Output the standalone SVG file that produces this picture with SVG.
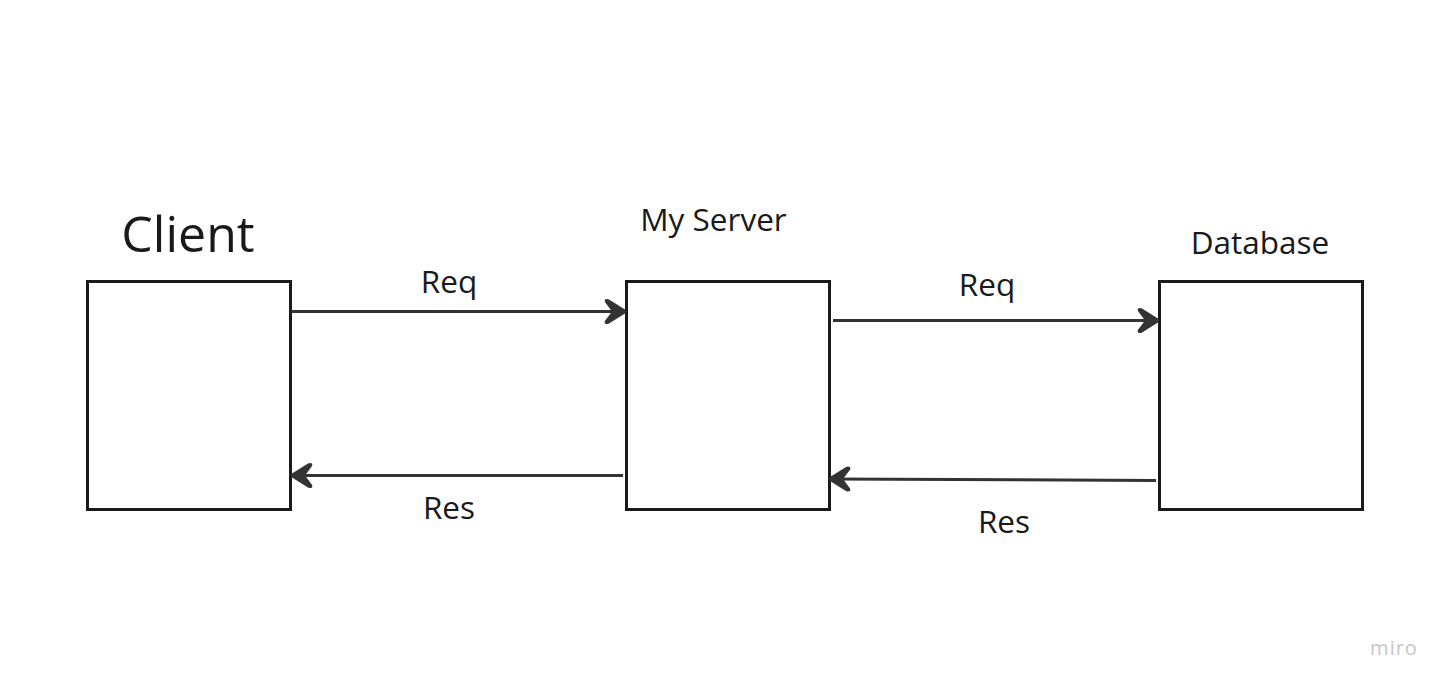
<svg xmlns="http://www.w3.org/2000/svg" width="1451" height="689" viewBox="0 0 1451 689">
<style>
.box{fill:#ffffff;stroke:#1a1a1a;stroke-width:3}
.lbl{font-family:"Open Sans","Liberation Sans",sans-serif;fill:#1a1a1a;text-anchor:middle}
.sm{font-size:31.5px}
.conn{stroke:#333333;stroke-width:3;fill:none}
</style>
<defs>
<marker id="ah" viewBox="0 0 24 26" refX="22" refY="13" markerWidth="24" markerHeight="26" markerUnits="userSpaceOnUse" orient="auto">
<path d="M2,1 Q4,0 6,1 L22,11 Q24,13 22,15 L6,25 Q4,26 2,25 Q1,23 3,21 L9,13 L3,5 Q1,3 2,1 Z" fill="#333333"/>
</marker>
</defs>
<rect width="1451" height="689" fill="#ffffff"/>
<g id="client">
<rect class="box" x="87.5" y="281.5" width="203" height="228"/>
<text class="lbl" x="188" y="252" font-size="50">Client</text>
</g>
<g id="server">
<rect class="box" x="626.5" y="281.5" width="203" height="228"/>
<text class="lbl sm" x="713.5" y="231">My Server</text>
</g>
<g id="database">
<rect class="box" x="1159.5" y="281.5" width="203" height="228"/>
<text class="lbl sm" x="1260" y="254">Database</text>
</g>
<g id="connectors">
<line class="conn" x1="291" y1="311.5" x2="625" y2="311.5" marker-end="url(#ah)"/>
<line class="conn" x1="623" y1="475.5" x2="292" y2="475.5" marker-end="url(#ah)"/>
<line class="conn" x1="833" y1="320.5" x2="1158" y2="320.5" marker-end="url(#ah)"/>
<line class="conn" x1="1156" y1="480.5" x2="830" y2="479" marker-end="url(#ah)"/>
<text class="lbl sm" x="449" y="293">Req</text>
<text class="lbl sm" x="449" y="519">Res</text>
<text class="lbl sm" x="987" y="296">Req</text>
<text class="lbl sm" x="1004" y="533">Res</text>
</g>
<text x="1394" y="655" font-family="'Open Sans','Liberation Sans',sans-serif" font-size="20" fill="#c4c6d0" text-anchor="middle" letter-spacing="1">miro</text>
</svg>
